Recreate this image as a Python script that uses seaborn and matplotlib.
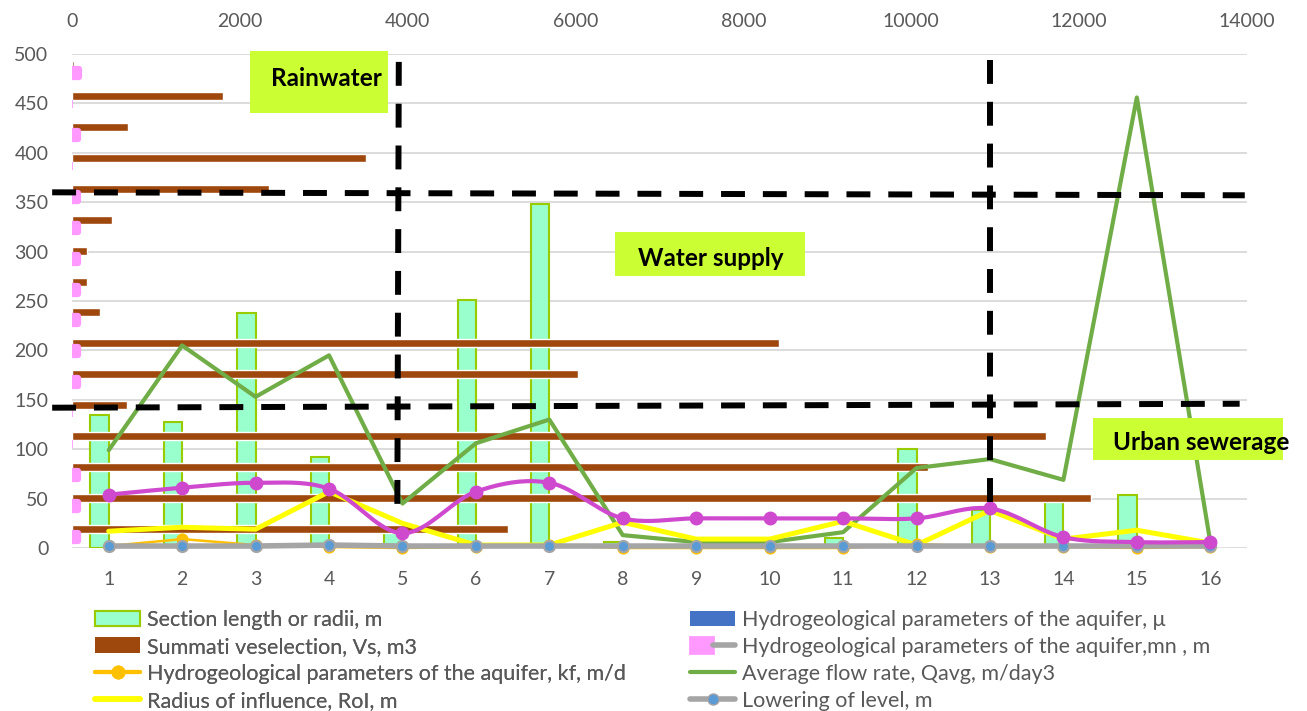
import numpy as np
import pandas as pd
import matplotlib
matplotlib.use("Agg")
import matplotlib.pyplot as plt
from matplotlib.patches import Patch, Rectangle
from matplotlib.lines import Line2D
from matplotlib.legend_handler import HandlerTuple
import seaborn as sns

# ---- data -------------------------------------------------------------
categories = [str(i) for i in range(1, 17)]

section_length = [135, 128, 238, 92, 18, 251, 348, 6, 0, 0, 10, 100, 38, 47, 54, 0]
aquifer_mu = [0] * 16
summati_vs = [5200, 12140, 10200, 11600, 654, 6033, 8425, 333,
              179, 179, 476, 2344, 3499, 666, 1797, 20]
aquifer_mn = [70, 70, 70, 0, 0, 70, 70, 70, 70, 70, 70, 70, 0, 70, 0, 80]
aquifer_kf = [2, 9, 3, 1, 0, 1, 3, 0, 0, 0, 0, 4, 1, 1, 0, 1]
avg_flow = [99, 205, 153, 195, 45, 106, 130, 13, 6, 6, 16, 81, 90, 69, 456, 6]
radius_infl = [17, 21, 19, 57, 25, 3, 3, 26, 9, 9, 27, 3, 38, 9, 18, 5]
lowering = [2, 2, 2, 3, 2, 2, 2, 2, 2, 2, 2, 2, 2, 2, 2, 2]
mn_profile = [54, 61, 66, 60, 15, 57, 66, 30, 30, 30, 30, 30, 40, 11, 6, 6]

y_ticks = list(range(0, 501, 50))
top_ticks = list(range(0, 14001, 2000))
zone_labels = ["Rainwater", "Water supply", "Urban sewerage"]

legend_labels = {
    "section": "Section length or radii, m",
    "mu": "Hydrogeological parameters of the aquifer, \u03bc",
    "vs": "Summati veselection, Vs, m3",
    "mn": "Hydrogeological parameters of the aquifer,mn , m",
    "kf": "Hydrogeological parameters of the aquifer, kf, m/d",
    "qavg": "Average flow rate, Qavg, m/day3",
    "roi": "Radius of influence, RoI, m",
    "low": "Lowering of level, m",
}

# ---- colours ----------------------------------------------------------
C_MINT, C_MINT_EDGE = "#99FFCC", "#99CC00"
C_BLUE = "#4472C4"
C_BROWN = "#9E480E"
C_PINK = "#FF99FF"
C_ORANGE = "#FFC000"
C_GREEN = "#70AD47"
C_YELLOW = "#FFFF00"
C_GRAY = "#A5A5A5"
C_DOT = "#5B9BD5"
C_MAGENTA = "#CF49CF"
C_TEXT = "#595959"
C_BOX = "#CCFF33"


def catmull_rom(x, y, steps=20):
    """Smooth curve through the points (same construction as a smoothed line)."""
    P = np.column_stack([x, y]).astype(float)
    P = np.vstack([2 * P[0] - P[1], P, 2 * P[-1] - P[-2]])
    t = np.linspace(0, 1, steps, endpoint=False)[:, None]
    parts = []
    for i in range(1, len(P) - 2):
        p0, p1, p2, p3 = P[i - 1], P[i], P[i + 1], P[i + 2]
        parts.append(0.5 * (2 * p1 + (-p0 + p2) * t
                            + (2 * p0 - 5 * p1 + 4 * p2 - p3) * t ** 2
                            + (-p0 + 3 * p1 - 3 * p2 + p3) * t ** 3))
    parts.append(P[-2][None, :])
    pts = np.vstack(parts)
    return pts[:, 0], pts[:, 1]


sns.set_theme(style="white")
plt.rcParams["font.family"] = ["Lato", "DejaVu Sans"]

W, H = 1307, 711
fig = plt.figure(figsize=(W / 100, H / 100), dpi=100)
pos = [72 / W, 1 - 548 / H, 1175 / W, 494 / H]
ax0 = fig.add_axes(pos)
axb = fig.add_axes(pos)
axl = fig.add_axes(pos)
for a in (axb, axl):
    a.patch.set_visible(False)

# ---- primary columns --------------------------------------------------
df_cols = pd.DataFrame({
    "cat": categories * 2,
    "value": section_length + aquifer_mu,
    "series": ["section"] * 16 + ["mu"] * 16,
})
sns.barplot(data=df_cols, x="cat", y="value", hue="series", order=categories,
            hue_order=["section", "mu"], palette={"section": C_MINT, "mu": C_BLUE},
            width=0.5, saturation=1, errorbar=None, legend=False, ax=ax0)
for p in ax0.containers[0]:
    p.set_edgecolor(C_MINT_EDGE)
    p.set_linewidth(1.5)

ax0.set_xlim(-0.5, 15.5)
ax0.set_ylim(0, 500)
ax0.set_yticks(y_ticks)
ax0.set_xlabel("")
ax0.set_ylabel("")
ax0.yaxis.grid(True, color="#D9D9D9", linewidth=1.3)
ax0.xaxis.grid(False)
ax0.set_axisbelow(True)
for s in ax0.spines.values():
    s.set_visible(False)
ax0.tick_params(axis="y", length=0, pad=17, labelsize=14, labelcolor=C_TEXT)
ax0.tick_params(axis="x", length=0, pad=16.5, labelsize=14, labelcolor=C_TEXT)

# ---- secondary horizontal bars ---------------------------------------
df_h = pd.DataFrame({
    "cat": categories * 2,
    "value": summati_vs + aquifer_mn,
    "series": ["vs"] * 16 + ["mn"] * 16,
})
sns.barplot(data=df_h, x="value", y="cat", hue="series", orient="h",
            order=categories[::-1], hue_order=["vs", "mn"],
            palette={"vs": C_BROWN, "mn": C_PINK}, width=0.52, saturation=1,
            errorbar=None, legend=False, ax=axb)
for p in axb.containers[1]:
    p.set_edgecolor(C_PINK)
    p.set_linewidth(4.5 if p.get_width() > 0 else 1.2)
    p.set_joinstyle("round")
axb.set_xlim(0, 14000)
axb.set_ylim(15.5, -0.5)
axb.set_xticks(top_ticks)
axb.set_xticklabels([str(v) for v in top_ticks])
axb.set_yticks([])
axb.set_xlabel("")
axb.set_ylabel("")
axb.grid(False)
for s in axb.spines.values():
    s.set_visible(False)
axb.tick_params(axis="x", top=True, bottom=False, labeltop=True, labelbottom=False,
                length=0, pad=17, labelsize=14, labelcolor=C_TEXT)

# ---- lines --------------------------------------------------------------
idx = np.arange(16)
axl.set_xlim(-0.5, 15.5)
axl.set_ylim(0, 500)
axl.axis("off")

sns.lineplot(x=idx, y=aquifer_kf, ax=axl, color=C_ORANGE, linewidth=1.8,
             marker="o", markersize=8, markerfacecolor=C_ORANGE,
             markeredgecolor=C_ORANGE, clip_on=False, zorder=3)
sns.lineplot(x=idx, y=avg_flow, ax=axl, color=C_GREEN, linewidth=3,
             clip_on=False, zorder=4)
sns.lineplot(x=idx, y=radius_infl, ax=axl, color=C_YELLOW, linewidth=3.6,
             clip_on=False, zorder=5)
sns.lineplot(x=idx, y=lowering, ax=axl, color=C_GRAY, linewidth=4,
             marker="o", markersize=8, markerfacecolor=C_DOT,
             markeredgecolor=C_GRAY, markeredgewidth=1.5, clip_on=False, zorder=6)
cx, cy = catmull_rom(idx, mn_profile)
sns.lineplot(x=cx, y=cy, sort=False, estimator=None, ax=axl, color=C_MAGENTA,
             linewidth=3, clip_on=False, zorder=7)
axl.plot(idx, mn_profile, linestyle="none", marker="o", markersize=9,
         color=C_MAGENTA, clip_on=False, zorder=8)

# ---- zone dividers ----------------------------------------------------
dash = dict(color="black", linewidth=4.3, linestyle=(0, (4, 3)), clip_on=False, zorder=10)
axl.plot([-0.77, 15.47], [360, 357], **dash)
axl.plot([-0.77, 15.4], [142, 146], **dash)
axl.plot([3.95, 3.93], [492, 40], **dash)
axl.plot([12.0, 12.0], [494, 34], **dash)

# ---- zone labels ------------------------------------------------------
boxes = [
    ((0.1515, 0.8806), 0.1175, 0.1255, (0.2165, 0.951), "center"),
    ((0.462, 0.551), 0.162, 0.089, (0.544, 0.587), "center"),
    ((0.869, 0.178), 0.162, 0.085, (0.886, 0.2126), "left"),
]
for (xy, w, h, txy, ha), label in zip(boxes, zone_labels):
    axl.add_patch(Rectangle(xy, w, h, transform=axl.transAxes, facecolor=C_BOX,
                            edgecolor="none", clip_on=False, zorder=11))
    axl.text(txy[0], txy[1], label, transform=axl.transAxes, ha=ha, va="center",
             fontsize=17.5, fontweight="bold", color="black", zorder=12, clip_on=False)

# ---- legend (two columns) --------------------------------------------
h_section = Patch(facecolor=C_MINT, edgecolor=C_MINT_EDGE, linewidth=1.5)
h_mu = Patch(facecolor=C_BLUE, edgecolor="none")
h_vs = Patch(facecolor=C_BROWN, edgecolor="none")
h_mn = (Patch(facecolor=C_PINK, edgecolor=C_PINK, linewidth=2),
        Line2D([], [], color=C_GRAY, linewidth=4))
h_kf = Line2D([], [], color=C_ORANGE, linewidth=3, marker="o", markersize=9)
h_qavg = Line2D([], [], color=C_GREEN, linewidth=3)
h_roi = Line2D([], [], color=C_YELLOW, linewidth=4)
h_low = Line2D([], [], color=C_GRAY, linewidth=4, marker="o", markersize=8,
               markerfacecolor=C_DOT, markeredgecolor=C_GRAY)

leg_kw = dict(loc="upper left", ncol=1, frameon=False, fontsize=15.5, labelcolor=C_TEXT,
              handlelength=2.1, handleheight=0.75, handletextpad=0.3,
              labelspacing=0.32, borderaxespad=0, borderpad=0,
              handler_map={tuple: HandlerTuple(ndivide=None)})
left_keys, left_handles = ["section", "vs", "kf", "roi"], [h_section, h_vs, h_kf, h_roi]
right_keys, right_handles = ["mu", "mn", "qavg", "low"], [h_mu, h_mn, h_qavg, h_low]
leg1 = fig.legend(left_handles, [legend_labels[k] for k in left_keys],
                  bbox_to_anchor=(95 / W, 1 - 610 / H), **leg_kw)
fig.add_artist(leg1)
fig.legend(right_handles, [legend_labels[k] for k in right_keys],
           bbox_to_anchor=(690 / W, 1 - 610 / H), **leg_kw)

fig.savefig("out.png", dpi=100)
